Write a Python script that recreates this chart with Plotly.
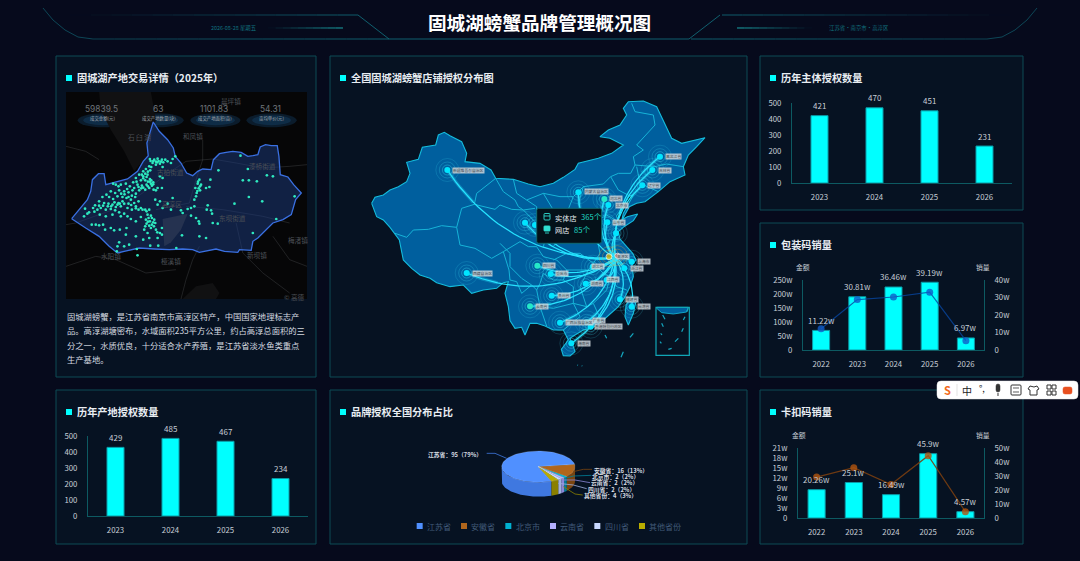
import math
import plotly.graph_objects as go

# ---------- data ----------
TITLE = "固城湖螃蟹品牌管理概况图"
DATE_TEXT = "2026-08-28 星期五"
PLACE_TEXT = "江苏省·南京市·高淳区"

years_a = ["2023", "2024", "2025", "2026"]
subject_auth = [421, 470, 451, 231]
origin_auth = [429, 485, 467, 234]

years_b = ["2022", "2023", "2024", "2025", "2026"]
pack_amount = [70, 190, 225, 242, 43]
pack_sales = [12.1, 28.8, 30.3, 33.0, 5.3]
pack_labels = ["11.22w", "30.81w", "36.46w", "39.19w", "6.97w"]
clip_amount = [8.5, 10.65, 7.0, 19.3, 1.9]
clip_sales = [29.2, 35.9, 23.9, 44.5, 4.5]
clip_labels = ["20.26w", "25.1w", "16.49w", "45.9w", "4.57w"]

pie_names = ["江苏省", "安徽省", "北京市", "云南省", "四川省", "其他省份"]
pie_values = [95, 16, 2, 2, 2, 4]
pie_pcts = [79, 13, 2, 2, 2, 3]
pie_top = ["#5090ff", "#b0661c", "#00b0d0", "#b4b0ff", "#c8d8ff", "#b8ac00"]
pie_side = ["#3f78e0", "#7a4510", "#007f98", "#8a86d8", "#a0b0e0", "#8a8000"]

kpi_values = ["59839.5", "63", "1101.83", "54.31"]
kpi_names = ["成交金额(元)", "成交产地数量(块)", "成交产地面积(亩)", "亩均单价(元)"]

intro_lines = [
    "固城湖螃蟹，是江苏省南京市高淳区特产，中国国家地理标志产",
    "品。高淳湖塘密布，水域面积235平方公里，约占高淳总面积的三",
    "分之一，水质优良，十分适合水产养殖，是江苏省淡水鱼类重点",
    "生产基地。",
]

region_outline = [(48,477),(70,450),(95,420),(105,395),(110,360),(128,342),(145,342),(150,375),(175,368),(215,358),(245,335),(262,305),(277,288),(273,250),(285,210),(292,187),(310,215),(335,240),(352,265),(358,290),(375,310),(392,340),(410,348),(425,335),(440,328),(465,330),(472,300),(490,282),(510,278),(530,275),(555,278),(575,290),(590,288),(605,285),(612,262),(628,255),(645,258),(663,258),(668,290),(672,345),(695,352),(712,375),(735,400),(718,420),(705,465),(680,480),(650,490),(630,510),(605,535),(590,545),(585,572),(550,570),(545,578),(505,575),(480,568),(430,578),(410,570),(380,568),(340,570),(295,568),(250,565),(205,575),(185,580),(160,560),(130,530),(90,505),(48,477)]

plot_dots = [(282,298),(295,300),(305,297),(318,300),(290,310),(300,315),(312,312),(322,308),(280,320),(270,328),(283,332),(262,335),(335,305),(350,298),(358,290),(345,310),(320,322),
(250,345),(262,350),(275,345),(240,355),(255,362),(268,362),(282,358),(232,368),(245,375),(258,378),(272,375),(285,372),(292,368),(280,385),(268,390),(293,390),(305,385),(318,385),(250,392),(235,385),(222,380),(210,372),(195,375),(180,375),(172,372),(320,355),(312,350),
(165,395),(178,400),(190,392),(205,395),(218,398),(228,408),(240,402),(152,405),(140,412),(160,412),(172,418),(185,410),(200,412),(212,415),(225,420),(235,430),(248,425),(130,425),(118,437),(145,430),(158,432),(170,435),(185,435),(195,440),(205,432),(215,445),(228,450),(240,440),(255,445),(268,450),(280,450),(125,450),(135,445),(150,450),(165,448),(178,452),(190,458),(205,462),(100,458),(88,447),(95,462),(85,470),(132,465),(150,470),(170,465),(195,470),(215,470),(120,495),(108,495),(130,497),(142,495),(148,510),(165,505),(175,512),(192,510),(212,505),(210,525),(225,478),(240,485),(255,472),(275,465),(285,468),(270,480),(282,485),(295,480),(272,492),(288,495),(298,490),(285,505),(300,510),(318,505),(312,520),(265,510),(275,520),(262,540),(280,535),(305,535),(318,525),(307,558),(283,558),(240,530),(220,555),(205,560),(190,548),(185,560),(183,575),(245,587),(243,568),
(298,420),(312,425),(305,435),(335,432),(350,415),(320,445),(345,450),
(430,360),(425,372),(435,375),(418,385),(432,392),(422,400),(450,385),(460,382),(463,360),(415,420),(420,410),(405,445),(395,448),(415,440),(375,452),(380,460),(405,468),(420,475),(428,485),(430,492),(455,437),(452,450),(465,452),(468,462),(470,490),(485,492),(378,527),(430,530),(450,535),(361,565),
(487,332),(553,288),(575,328),(578,362),(560,362),(602,365),(632,347),(650,350),(578,412),(618,425),(535,432),(715,410),(660,478),(590,520),
(284,304),(292,304),(300,306),(308,304),(315,306),(286,322),(276,336),(268,342),(258,345),(262,356),(272,352),(276,366),(282,366),(288,378),(276,380),(262,384),(242,366),(248,382),(256,386),(286,362),(292,374),(300,392),(188,430),(176,428),(166,440),(180,442),(192,432),(200,425),(218,432),(226,436),(240,446),(248,450),(260,450),(272,455),(156,440),(142,438),(130,438),(112,445),(116,456),(278,475),(288,475),(276,486),(292,488),(280,498),(268,500),(294,500),(304,518),(218,412),(206,404),(196,402),(238,412),(230,392),(214,388),(188,380),(304,308),(328,300),(426,366),(432,380),(428,386),(424,394)]

roads = [
 [(31,495),(60,490),(130,465),(200,440),(260,400),(330,345),(390,305),(470,298),(540,310),(620,325),(700,320),(752,315)],
 [(430,560),(410,600),(390,660),(375,718)],
 [(440,240),(440,300),(420,360),(400,430),(300,450)],
 [(390,440),(500,450),(620,470),(700,490)],
 [(540,490),(560,580),(620,640),(700,700)],
 [(31,260),(90,275),(130,300)],
 [(650,530),(700,600),(752,620)],
 [(31,620),(120,590),(180,600),(270,640),(360,630)],
]
lake_big = [(130,97),(285,97),(300,180),(272,290),(235,335),(205,275),(165,210),(135,150)]
lake_small = [(320,478),(395,462),(375,510),(345,548),(325,560)]
lake_low = [(380,718),(420,680),(470,670),(490,700),(480,718)]
place_names = [("石 臼 湖",250,233),("和凤镇",410,230),("古柏街道",345,337),("高淳区",348,432),("东坝街道",528,475),("漆桥街道",620,320),("水阳镇",165,590),("桠溪镇",345,605),("新坝镇",603,587),("梅渚镇",725,540),("晨坪镇",525,123),("© 高德",715,712)]

china_outline = [(95,340),(105,322),(130,315),(150,300),(175,290),(200,275),(210,250),(200,217),(235,208),(247,172),(287,165),(295,135),(313,127),(330,137),(365,155),(380,190),(375,215),(420,220),(453,240),(467,265),(520,268),(565,282),(600,290),(640,280),(670,262),(705,238),(715,220),(775,205),(815,190),(850,165),(810,145),(780,140),(805,120),(840,105),(860,75),(850,55),(865,35),(910,33),(950,50),(975,105),(995,145),(1025,160),(1095,143),(1070,170),(1045,195),(1030,230),(1035,255),(990,275),(955,305),(915,335),(890,340),(868,350),(845,392),(850,370),(880,315),(868,318),(850,345),(830,378),(835,395),(862,380),(893,372),(880,392),(852,410),(835,425),(840,447),(860,470),(878,490),(888,510),(876,525),(880,560),(870,590),(855,620),(835,650),(810,672),(785,695),(760,712),(730,720),(705,735),(690,745),(700,770),(705,785),(690,798),(670,797),(664,778),(685,750),(670,720),(640,720),(615,708),(590,700),(570,700),(555,735),(545,712),(525,715),(510,692),(505,650),(495,610),(505,575),(490,578),(470,595),(430,600),(395,610),(370,585),(330,590),(290,578),(270,565),(240,555),(215,535),(190,510),(178,450),(150,412),(130,390),(110,380),(100,355),(95,340)]
taiwan_outline = [(875,622),(888,635),(880,670),(865,705),(855,680),(858,645),(875,622)]

province_lines = [
 [(165,430),(200,442),(220,420),(265,418),(305,407),(350,412),(365,355),(403,343),(410,310),(467,265)],
 [(350,412),(360,465),(405,475),(455,505),(490,485),(507,540),(510,570)],
 [(403,343),(465,358),(480,345),(515,358),(550,360)],
 [(467,265),(490,305),(525,330),(535,350),(550,360),(585,355)],
 [(520,268),(530,310),(560,330),(610,310),(660,320),(700,320),(730,290),(790,282),(812,260),(835,250),(872,250),(885,225),(880,200),(910,180),(890,165),(945,105),(940,75),(885,65),(875,40)],
 [(885,225),(945,230),(980,222),(1030,230)],
 [(890,230),(900,280),(955,305)],
 [(812,260),(835,300),(870,318)],
 [(480,460),(510,490),(510,530),(545,565),(575,585),(590,600)],
 [(510,570),(530,575),(545,610),(575,585)],
 [(490,485),(540,455),(565,470),(590,470),(610,500),(650,510),(680,540),(670,570),(640,570),(610,550),(600,580),(590,600)],
 [(590,600),(600,650),(640,655),(700,640),(700,590),(670,570)],
 [(600,650),(620,708)],
 [(700,640),(720,680),(670,720)],
 [(700,640),(740,650),(760,640)],
 [(745,540),(720,590),(740,650)],
 [(640,510),(680,490),(720,490),(760,520),(745,540),(680,540)],
 [(640,470),(660,440),(720,420),(770,440),(780,490),(760,520)],
 [(760,640),(800,600),(810,560),(790,550),(760,520)],
 [(810,560),(830,590),(860,600)],
 [(760,640),(785,695)],
 [(770,440),(810,450),(800,470),(820,510),(810,560)],
 [(810,450),(840,447)],
 [(770,440),(760,400),(800,375),(835,395)],
 [(720,420),(730,380),(715,340),(730,290)],
 [(660,440),(680,370),(700,320)],
 [(610,310),(640,360),(610,470)],
 [(560,330),(590,350),(590,400),(550,360)],
]
hub = (825, 505)
origin_point = (807, 500)
cities = ["新疆维吾尔自治区","西藏自治区","黑龙江省","吉林省","辽宁省","内蒙古自治区","河北省","北京市","甘肃省","宁夏","山东省","江苏省","四川省","重庆市","贵州省","云南省","广西壮族自治区","广东省","香港特别行政区","海南省","湖北省","湖南省","福建省","台湾省","上海市","浙江省","江西省"]
city_x = [322,380,960,937,907,715,793,805,555,585,802,828,592,632,635,570,660,740,752,694,758,737,840,875,875,853,800]
city_y = [240,549,200,240,286,307,327,345,398,405,397,430,527,552,617,649,698,697,710,760,530,581,628,650,515,535,570]
label_x = [385,428,1001,975,943,768,829,846,0,0,838,0,628,667,671,607,718,778,806,732,775,772,875,912,912,891,820]
label_y = [241,549,200,240,285,305,326,345,0,0,397,0,527,551,617,649,697,692,710,759,530,581,628,649,515,535,568]
teal_cities = ["河北省", "四川省", "云南省"]

inset_dashes = [[(968,675),(975,688)],[(965,700),(970,710)],[(962,730),(966,735)],[(960,755),(964,760)],[(1005,755),(1015,745)],[(985,778),(995,775)],[(1025,725),(1030,715)],[(1030,690),(1035,680)],[(1040,665),(1045,655)]]
sea_dashes = [[(880,730),(870,742)],[(850,785),(843,802)],[(795,735),(800,745)],[(712,825),(714,826)],[(725,827),(727,828)]]
inset_patch = [(950,652),(1045,652),(1040,666),(1000,672),(965,668),(950,655),(950,652)]

# ---------- helpers ----------
W, H = 1080, 561
FONT = "Noto Sans CJK SC"
BG = "#060a1c"
PANEL = "#061222"
EDGE = "#0c4a55"
TICK = "#c6ced6"
CYAN = "#00ffff"
AXIS = "#0d5a62"

def px(x): return x / W
def py(y): return 1 - y / H
def dom_x(a, b): return [a / W, b / W]
def dom_y(top, bottom): return [1 - bottom / H, 1 - top / H]

shapes, notes, traces = [], [], []

def rect(x0, y0, x1, y1, fill=None, line=None, width=1, layer="below"):
    shapes.append(dict(type="rect", xref="paper", yref="paper", x0=px(x0), x1=px(x1), y0=py(y0), y1=py(y1),
                       fillcolor=fill or "rgba(0,0,0,0)", line=dict(color=line or "rgba(0,0,0,0)", width=width if line else 0), layer=layer))

def seg(pts, color, width=1, layer="below", fill=None):
    d = "M" + " L".join(f"{px(x):.5f},{py(y):.5f}" for x, y in pts)
    if fill:
        d += " Z"
    shapes.append(dict(type="path", xref="paper", yref="paper", path=d, line=dict(color=color, width=width),
                       fillcolor=fill or "rgba(0,0,0,0)", layer=layer))

def rounded(x0, y0, x1, y1, r, fill, line, width=1, layer="above"):
    d = (f"M{px(x0+r)},{py(y0)} L{px(x1-r)},{py(y0)} Q{px(x1)},{py(y0)} {px(x1)},{py(y0+r)} "
         f"L{px(x1)},{py(y1-r)} Q{px(x1)},{py(y1)} {px(x1-r)},{py(y1)} L{px(x0+r)},{py(y1)} "
         f"Q{px(x0)},{py(y1)} {px(x0)},{py(y1-r)} L{px(x0)},{py(y0+r)} Q{px(x0)},{py(y0)} {px(x0+r)},{py(y0)} Z")
    shapes.append(dict(type="path", xref="paper", yref="paper", path=d, fillcolor=fill,
                       line=dict(color=line, width=width), layer=layer))

def fade(p0, p1, rgb, a0, a1, width=1, n=14):
    for i in range(n):
        t0, t1 = i / n, (i + 1) / n
        a = a0 + (a1 - a0) * (i + .5) / n
        seg([(p0[0] + (p1[0]-p0[0])*t0, p0[1] + (p1[1]-p0[1])*t0),
             (p0[0] + (p1[0]-p0[0])*t1, p0[1] + (p1[1]-p0[1])*t1)], f"rgba({rgb},{a:.3f})", width)

def text(x, y, s, size, color, anchor="center", bold=False, **kw):
    notes.append(dict(xref="paper", yref="paper", x=px(x), y=py(y), text=f"<b>{s}</b>" if bold else s, showarrow=False,
                      xanchor=anchor, yanchor="middle", font=dict(family=kw.pop("family", FONT), size=size, color=color),
                      borderpad=0, **kw))

def panel(x0, y0, x1, y1, title):
    rect(x0, y0, x1, y1, PANEL, EDGE, 1)
    rect(x0 + 10, y0 + 19, x0 + 16, y0 + 25, CYAN)
    text(x0 + 19.5, y0 + 21.5, title, 10.2, "#e8edf2", "left", True)

# ---------- page frame ----------
panel(56, 56, 316, 377, "固城湖产地交易详情（2025年）")
panel(330, 56, 747, 377, "全国固城湖螃蟹店铺授权分布图")
panel(760, 56, 1023, 210, "历年主体授权数量")
panel(760, 223, 1023, 377, "包装码销量")
panel(760, 390, 1023, 544, "卡扣码销量")
panel(56, 390, 316, 544, "历年产地授权数量")
panel(330, 390, 747, 544, "品牌授权全国分布占比")

HDR = "18,110,125"
seg([(358, 15), (389, 39), (689, 39), (720, 15)], f"rgba({HDR},.85)", 1)
for s in (-1, 1):
    cx = lambda v: 540 + s * v
    fade((cx(182), 15), (cx(470), 15), HDR, .85, 0)
    fade((cx(151), 39), (cx(447), 39), HDR, .85, .55)
    arc = [(447, 39), (462, 37), (475, 30), (487, 20), (497, 8)]
    seg([(cx(a), b) for a, b in arc], f"rgba({HDR},.6)", 1)
    fade((cx(197), 28), (cx(272), 28), "30,190,190", .9, 0, 1, 10)
text(539.5, 22, TITLE, 18.6, "#ffffff", bold=True)
text(234, 28, DATE_TEXT, 5.4, "#11717e")
text(859, 28, PLACE_TEXT, 5.4, "#11717e")

# ---------- bar charts ----------
def base_x(a, b, anchor, cats):
    return dict(domain=dom_x(a, b), anchor=anchor, type="category", categoryorder="array", categoryarray=cats,
                range=[-.5, len(cats) - .5], automargin=False,
                tickfont=dict(family=FONT, size=7.8, color=TICK), showline=True, linecolor=AXIS, linewidth=1,
                ticks="outside", ticklen=7, tickcolor="rgba(0,0,0,0)", showgrid=False, fixedrange=True, zeroline=False)

def base_y(top, bot, anchor, rng, vals, labels, side="left", overlay=None, line=True):
    d = dict(domain=dom_y(top, bot), anchor=anchor, range=rng, tickvals=vals, ticktext=labels, side=side, automargin=False,
             tickfont=dict(family=FONT, size=7.8, color=TICK), showline=line, linecolor=AXIS, linewidth=1,
             ticks="outside", ticklen=8, tickcolor="rgba(0,0,0,0)", showgrid=False, zeroline=False, fixedrange=True)
    if overlay:
        d["overlaying"] = overlay
    return d

axes = {}
def simple_bars(xn, yn, a, b, top, bot, cats, vals):
    axes["xaxis" + xn] = base_x(a, b, "y" + yn, cats)
    axes["yaxis" + yn] = base_y(top, bot, "x" + xn, [0, 500], [0,100,200,300,400,500], ["0","100","200","300","400","500"])
    traces.append(go.Bar(x=cats, y=vals, xaxis="x"+xn, yaxis="y"+yn, width=.31, marker=dict(color=CYAN, line=dict(color="#0b9aa6", width=1)), showlegend=False, hoverinfo="skip"))
    for i, v in enumerate(vals):
        notes.append(dict(xref="x"+xn, yref="y"+yn, x=i, y=v, text=str(v), showarrow=False, yshift=10, font=dict(family=FONT, size=8, color=TICK)))

simple_bars("", "", 792, 1012, 103, 183, years_a, subject_auth)
simple_bars("2", "2", 88, 308, 436, 516, years_a, origin_auth)

def combo(xn, yl, yr, a, b, top, bot, cats, bars, line, labels, lrng, lvals, lt, rrng, rvals, rt, lc, mc, bw, kx):
    axes["xaxis"+xn] = base_x(a, b, "y"+yl, cats)
    axes["yaxis"+yl] = base_y(top, bot, "x"+xn, lrng, lvals, lt)
    axes["yaxis"+yr] = base_y(top, bot, "x"+xn, rrng, rvals, rt, side="right", overlay="y"+yl)
    traces.append(go.Bar(x=cats, y=bars, xaxis="x"+xn, yaxis="y"+yl, width=bw, marker=dict(color=CYAN, line=dict(color="#0b9aa6", width=1)), showlegend=False, hoverinfo="skip"))
    traces.append(go.Scatter(x=cats, y=line, xaxis="x"+xn, yaxis="y"+yr, mode="lines+markers", line=dict(color=lc, width=1.2), marker=dict(color=mc, size=7, opacity=.8), showlegend=False, hoverinfo="skip"))
    for i, (v, t) in enumerate(zip(bars, labels)):
        notes.append(dict(xref="x"+xn, yref="y"+yl, x=i, y=v, text=t, showarrow=False, yshift=10, font=dict(family=FONT, size=8, color=TICK)))
    text(kx, top - 13, "金额", 6.8, TICK)
    text(983, top - 13, "销量", 6.8, TICK)

combo("3", "3", "4", 803, 984, 280, 350, years_b, pack_amount, pack_sales, pack_labels,
      [0, 250], [0,50,100,150,200,250], ["0","50w","100w","150w","200w","250w"],
      [0, 40], [0,10,20,30,40], ["0","10w","20w","30w","40w"], "rgba(8,70,160,.8)", "#0f5bc8", .47, 803)
combo("4", "5", "6", 798, 984, 448, 518, years_b, clip_amount, clip_sales, clip_labels,
      [0, 21], [0,3,6,9,12,15,18,21], ["0","3w","6w","9w","12w","15w","18w","21w"],
      [0, 50], [0,10,20,30,40,50], ["0","10w","20w","30w","40w","50w"], "rgba(122,62,16,.9)", "#b05510", .46, 799)

# ---------- left map ----------
axes["xaxis5"] = dict(domain=dom_x(66, 307), range=[31, 752], visible=False, fixedrange=True, anchor="y7")
axes["yaxis7"] = dict(domain=dom_y(92, 299), range=[718, 97], visible=False, fixedrange=True, anchor="x5")
rect(66, 92, 307, 299, "#060607")

def xy(pts):
    return [p[0] for p in pts], [p[1] for p in pts]

for lake, col in ((lake_big, "#111112"), (lake_low, "#111112")):
    x, y = xy(lake)
    traces.append(go.Scatter(x=x, y=y, xaxis="x5", yaxis="y7", mode="lines", fill="toself", fillcolor=col, line=dict(width=0), showlegend=False, hoverinfo="skip"))
for r in roads:
    x, y = xy(r)
    traces.append(go.Scatter(x=x, y=y, xaxis="x5", yaxis="y7", mode="lines", line=dict(color="rgba(115,120,125,.24)", width=1), showlegend=False, hoverinfo="skip"))
x, y = xy(region_outline)
traces.append(go.Scatter(x=x, y=y, xaxis="x5", yaxis="y7", mode="lines", fill="toself", fillcolor="rgba(28,60,130,.5)", line=dict(color="#3a70e2", width=1.3), showlegend=False, hoverinfo="skip"))
x, y = xy(lake_small)
traces.append(go.Scatter(x=x, y=y, xaxis="x5", yaxis="y7", mode="lines", fill="toself", fillcolor="rgba(110,115,125,.22)", line=dict(width=0), showlegend=False, hoverinfo="skip"))
x, y = xy(plot_dots)
traces.append(go.Scatter(x=x, y=y, xaxis="x5", yaxis="y7", mode="markers", marker=dict(color="#2eeac0", size=2.7, line=dict(width=0)), showlegend=False, hoverinfo="skip"))
for n, a, b in place_names:
    notes.append(dict(xref="x5", yref="y7", x=a, y=b, text=n, showarrow=False, font=dict(family=FONT, size=6.6, color="#4c5056")))
kpi_cx = [141, 308, 478, 646]
for v, n, c in zip(kpi_values, kpi_names, kpi_cx):
    for rx, ry, col in ((75, 21, "rgba(25,85,140,.28)"), (58, 15, "rgba(25,85,140,.28)")):
        shapes.append(dict(type="circle", xref="x5", yref="y7", x0=c-rx, x1=c+rx, y0=182-ry, y1=182+ry, fillcolor=col, line=dict(width=0), layer="below"))
    notes.append(dict(xref="x5", yref="y7", x=c-3, y=148, text=v, showarrow=False, font=dict(family="Inter", size=8.4, color="#6e747a")))
    notes.append(dict(xref="x5", yref="y7", x=c, y=175, text=n, showarrow=False, font=dict(family=FONT, size=4.4, color="#a4aab0")))
for i, line in enumerate(intro_lines):
    text(66, 316 + i * 14.4, line, 8.3, "#d5dae0", "left")

# ---------- China map ----------
axes["xaxis6"] = dict(domain=dom_x(340, 740), range=[0, 1200], visible=False, fixedrange=True, anchor="y8")
axes["yaxis8"] = dict(domain=dom_y(90, 375), range=[855, 0], visible=False, fixedrange=True, anchor="x6")
M_FILL, M_EDGE = "#005f9e", "#14bcdc"
for poly in (china_outline, taiwan_outline):
    x, y = xy(poly)
    traces.append(go.Scatter(x=x, y=y, xaxis="x6", yaxis="y8", mode="lines", fill="toself", fillcolor=M_FILL, line=dict(color=M_EDGE, width=1.1), showlegend=False, hoverinfo="skip"))
px_, py_ = [], []
for l in province_lines:
    x, y = xy(l)
    px_ += x + [None]
    py_ += y + [None]
traces.append(go.Scatter(x=px_, y=py_, xaxis="x6", yaxis="y8", mode="lines", line=dict(color="#16b4d8", width=1), showlegend=False, hoverinfo="skip"))

fx, fy, gx, gy = [], [], [], []
BEND = .27
for cxv, cyv in zip(city_x, city_y):
    dx, dy = cxv - hub[0], cyv - hub[1]
    c = ((hub[0] + cxv) / 2 + dy * BEND, (hub[1] + cyv) / 2 - dx * BEND)
    pts = []
    for i in range(31):
        t = i / 30
        pts.append(((1-t)**2*hub[0] + 2*t*(1-t)*c[0] + t*t*cxv, (1-t)**2*hub[1] + 2*t*(1-t)*c[1] + t*t*cyv))
    fx += [p[0] for p in pts] + [None]
    fy += [p[1] for p in pts] + [None]
    gx += [p[0] for p in pts[24:]] + [None]
    gy += [p[1] for p in pts[24:]] + [None]
traces.append(go.Scatter(x=gx, y=gy, xaxis="x6", yaxis="y8", mode="lines", line=dict(color="rgba(40,230,255,.28)", width=3.5), showlegend=False, hoverinfo="skip"))
traces.append(go.Scatter(x=fx, y=fy, xaxis="x6", yaxis="y8", mode="lines", line=dict(color="#26e4ff", width=1.25), showlegend=False, hoverinfo="skip"))
for size, alpha in ((23, .18), (16, .26), (10, .38)):
    traces.append(go.Scatter(x=city_x, y=city_y, xaxis="x6", yaxis="y8", mode="markers", marker=dict(size=size, color="rgba(0,0,0,0)", line=dict(color=f"rgba(60,215,240,{alpha})", width=1)), showlegend=False, hoverinfo="skip"))
city_cols = ["#25e8c8" if c in teal_cities else "#00e5ff" for c in cities]
traces.append(go.Scatter(x=city_x, y=city_y, xaxis="x6", yaxis="y8", mode="markers", marker=dict(size=6, color=city_cols), showlegend=False, hoverinfo="skip"))
for n, lx, ly in zip(cities, label_x, label_y):
    if lx:
        notes.append(dict(xref="x6", yref="y8", x=lx, y=ly, text=n, showarrow=False, bgcolor="rgba(205,212,216,.85)", borderpad=0, font=dict(family=FONT, size=3.8, color="#444b50")))
# hub
traces.append(go.Scatter(x=[origin_point[0]]*2 + [832]*2, y=[origin_point[1]]*2 + [497]*2, xaxis="x6", yaxis="y8", mode="markers", marker=dict(size=[20,13,20,13], color="rgba(0,0,0,0)", line=dict(color="rgba(240,170,60,.45)", width=1)), showlegend=False, hoverinfo="skip"))
traces.append(go.Scatter(x=[origin_point[0], 832], y=[origin_point[1], 497], xaxis="x6", yaxis="y8", mode="markers", marker=dict(size=[6,5], color=["#ffc800","#f04a30"]), showlegend=False, hoverinfo="skip"))
notes.append(dict(xref="x6", yref="y8", x=850, y=499, text="高淳区", showarrow=False, bgcolor="rgba(205,212,216,.85)", borderpad=0, font=dict(family=FONT, size=3.8, color="#444b50")))
# inset & islands
x, y = xy(inset_patch)
traces.append(go.Scatter(x=x, y=y, xaxis="x6", yaxis="y8", mode="lines", fill="toself", fillcolor=M_FILL, line=dict(color=M_EDGE, width=.8), showlegend=False, hoverinfo="skip"))
shapes.append(dict(type="rect", xref="x6", yref="y8", x0=948, x1=1048, y0=652, y1=796, line=dict(color="#10a6b6", width=1.2), layer="above"))
dx_, dy_ = [], []
for l in inset_dashes + sea_dashes:
    x, y = xy(l)
    dx_ += x + [None]
    dy_ += y + [None]
traces.append(go.Scatter(x=dx_, y=dy_, xaxis="x6", yaxis="y8", mode="lines", line=dict(color="#14a8c0", width=1.2), showlegend=False, hoverinfo="skip"))
# tooltip
rounded(536.7, 208.3, 601.7, 243.3, 2, "#041119", "#0f6a72", 1)
text(553.5, 217.5, "实体店", 7.2, "#e6ecf0", "left")
text(580, 216.5, "365个", 7.6, "#1fd8c4", "left")
text(553.5, 230, "网店", 7.2, "#e6ecf0", "left")
text(572.5, 229.5, "85个", 7.6, "#1fd8c4", "left")
rounded(544, 213.5, 550, 220, 1, "rgba(0,0,0,0)", "#2fdcd0", .9)
seg([(544, 216), (550, 216)], "#2fdcd0", .9, "above")
rounded(544, 226, 550, 231, .6, "#2fdcd0", "#2fdcd0", .9)
seg([(545, 233), (549, 233)], "#2fdcd0", .9, "above")

# ---------- 3D pie ----------
axes["xaxis7"] = dict(domain=dom_x(400, 700), range=[0, 900], visible=False, fixedrange=True, anchor="y9")
axes["yaxis9"] = dict(domain=dom_y(430, 540), range=[330, 0], visible=False, fixedrange=True, anchor="x7")
PCX, PCY, PRX, PRY, THK = 415, 110, 110, 47, 43
total = sum(pie_values)
a0 = math.radians(69)
spans = []
for v in pie_values:
    a1 = a0 + v / total * 2 * math.pi
    spans.append((a0, a1))
    a0 = a1

def arc_pts(a, b, dz=0, n=None):
    n = n or max(2, int(abs(b - a) / .05))
    return [(PCX + PRX*math.cos(a + (b-a)*i/n), PCY + PRY*math.sin(a + (b-a)*i/n) + dz) for i in range(n + 1)]

for (a, b), col in zip(spans, pie_side):
    for off in (0, 2 * math.pi):
        lo, hi = max(a, off), min(b, off + math.pi)
        if hi > lo:
            poly = arc_pts(lo, hi) + arc_pts(hi, lo, THK)
            x, y = xy(poly + poly[:1])
            traces.append(go.Scatter(x=x, y=y, xaxis="x7", yaxis="y9", mode="lines", fill="toself", fillcolor=col, line=dict(width=0, color=col), showlegend=False, hoverinfo="skip"))
for (a, b), col in zip(spans, pie_top):
    poly = [(PCX, PCY)] + arc_pts(a, b) + [(PCX, PCY)]
    x, y = xy(poly)
    traces.append(go.Scatter(x=x, y=y, xaxis="x7", yaxis="y9", mode="lines", fill="toself", fillcolor=col, line=dict(width=.3, color="rgba(255,255,255,.5)"), showlegend=False, hoverinfo="skip"))

pie_lead = [[(320,85),(285,70),(260,70)],[(520,125),(550,118),(576,118)],[(495,145),(520,138),(574,136)],[(490,150),(525,150),(570,158)],[(475,160),(520,165),(560,176)],[(490,170),(525,192),(548,195)]]
pie_lab_x = [248, 578, 574, 570, 561, 549]
pie_lab_y = [73, 120, 139, 158, 177, 197]
pie_anchor = ["right", "left", "left", "left", "left", "left"]
for i, n in enumerate(pie_names):
    x, y = xy(pie_lead[i])
    traces.append(go.Scatter(x=x, y=y, xaxis="x7", yaxis="y9", mode="lines", line=dict(color=pie_side[i], width=.8), showlegend=False, hoverinfo="skip"))
    notes.append(dict(xref="x7", yref="y9", x=pie_lab_x[i], y=pie_lab_y[i], xanchor=pie_anchor[i], text=f"<b>{n}：{pie_values[i]}（{pie_pcts[i]}%）</b>", showarrow=False, borderpad=0, font=dict(family=FONT, size=5.8, color="#d9dee4")))
leg_x = [59, 192, 325, 459, 592, 726]
traces.append(go.Scatter(x=leg_x, y=[288]*6, xaxis="x7", yaxis="y9", mode="markers", marker=dict(symbol="square", size=6, color=pie_top), showlegend=False, hoverinfo="skip"))
for n, a in zip(pie_names, leg_x):
    notes.append(dict(xref="x7", yref="y9", x=a + 19, y=288, xanchor="left", text=n, showarrow=False, borderpad=0, font=dict(family=FONT, size=8, color="#415a78")))

# ---------- input-method toolbar over the page ----------
rounded(937, 381, 1078, 399, 4, "#ffffff", "#e8e8e8", .5)
text(947, 390, "S", 11, "#f26a1b", bold=True)
seg([(957, 384), (957, 396)], "#dddddd", .8, "above")
text(967, 390, "中", 10, "#222222")
text(982, 388.5, "°,", 9, "#222222")
rounded(996, 384, 1000, 392, 2, "#333333", "#333333", .5)
seg([(998, 393), (998, 396)], "#333333", 1, "above")
rounded(1011, 385, 1021, 395, 1, "rgba(0,0,0,0)", "#333333", 1)
seg([(1013, 388), (1019, 388)], "#333333", .8, "above")
seg([(1013, 392), (1019, 392)], "#333333", .8, "above")
seg([(1030, 386), (1034, 387), (1037, 386), (1039, 389), (1037, 390), (1037, 395), (1030, 395), (1030, 390), (1028, 389), (1030, 386)], "#333333", 1, "above")
for a in (1047, 1052):
    for b in (385, 391):
        rect(a, b, a + 4, b + 4, None, "#333333", 1, "above")
rounded(1063, 387, 1072, 394, 2, "#e85020", "#e85020", .5)

fig = go.Figure(traces)
fig.update_layout(width=W, height=H, margin=dict(l=0, r=0, t=0, b=0, autoexpand=False), paper_bgcolor=BG, plot_bgcolor="rgba(0,0,0,0)",
                  shapes=shapes, annotations=notes, showlegend=False, font=dict(family=FONT), **axes)
fig.write_html("out.html", config=dict(displayModeBar=False, staticPlot=True),
               post_script="document.body.style.margin='0';document.body.style.background='#060a1c';document.documentElement.style.overflow='hidden';")
